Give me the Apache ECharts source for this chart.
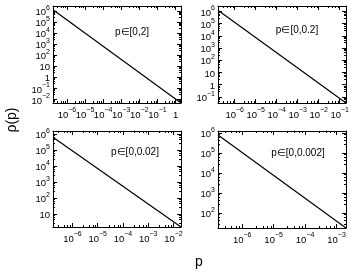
<!DOCTYPE html>
<html><head><meta charset="utf-8">
<script src="https://cdn.jsdelivr.net/npm/echarts@6/dist/echarts.min.js"></script>
<style>html,body{margin:0;padding:0;background:#fff}#c{width:363px;height:272px}</style>
</head><body><div id="c"></div>
<script>
// ---- data ----
const panelLabels = ['p\u2208[0,2]', 'p\u2208[0,0.2]', 'p\u2208[0,0.02]', 'p\u2208[0,0.002]'];
const xMinValues = [1.7e-7, 1.6e-7, 1.7e-7, 1.7e-7];
const xMaxValues = [2, 0.2, 0.02, 0.002];
const yMinValues = [4.8e-3, 3.2e-2, 1.6, 17.8];
const yMaxValues = [2.8e6, 2.8e6, 1.55e6, 1.26e6];
const pValues = [[1.7e-7, 2], [1.6e-7, 0.2], [1.7e-7, 0.02], [1.7e-7, 0.002]];
const rhoValues = [[1.26e6, 4.8e-3], [1.26e6, 3.2e-2], [6.3e5, 1.6], [7.9e5, 17.8]];
const xTitle = 'p';
const yTitle = '\u03c1(p)';

// ---- layout ----
const grids = [
  {left: 53, top: 6, width: 128, height: 97},
  {left: 218, top: 6, width: 128, height: 97},
  {left: 53, top: 131, width: 128, height: 96},
  {left: 218, top: 131, width: 128, height: 97}
];
const FONT = '"Liberation Sans", Arial, sans-serif';

function fmt(v) {
  const n = Math.log10(v);
  const r = Math.round(n);
  if (Math.abs(n - r) > 1e-6) return '';
  if (r === 0) return '{b|1}';
  if (r === 1) return '{b|10}';
  return '{b|10}{s|' + (r < 0 ? '\u2212' : '') + Math.abs(r) + '}';
}
const rich = {
  b: {fontSize: 9.5, fontFamily: FONT, color: '#000', lineHeight: 13, verticalAlign: 'bottom'},
  s: {fontSize: 7, fontFamily: FONT, color: '#000', lineHeight: 8, verticalAlign: 'top'}
};

const xAxes = [], yAxes = [], series = [], graphics = [];
grids.forEach((g, i) => {
  const common = {
    type: 'log', logBase: 10, gridIndex: i,
    axisLine: {show: true, onZero: false, lineStyle: {color: '#000', width: 1}},
    axisTick: {show: true, inside: true, length: 4, lineStyle: {color: '#000'}},
    minorTick: {show: true, splitNumber: 5, length: 2, lineStyle: {color: '#000'}},
    splitLine: {show: false},
    minorSplitLine: {show: false}
  };
  xAxes.push(Object.assign({}, common, {
    position: 'bottom', min: xMinValues[i], max: xMaxValues[i],
    axisLabel: {show: true, formatter: fmt, rich: rich, margin: 4, showMinLabel: false, showMaxLabel: false, hideOverlap: false}
  }));
  xAxes.push(Object.assign({}, common, {
    position: 'top', min: xMinValues[i], max: xMaxValues[i], axisLabel: {show: false}
  }));
  yAxes.push(Object.assign({}, common, {
    position: 'left', min: yMinValues[i], max: yMaxValues[i],
    axisLabel: {show: true, formatter: fmt, rich: rich, margin: 3, showMinLabel: false, showMaxLabel: false, hideOverlap: false}
  }));
  yAxes.push(Object.assign({}, common, {
    position: 'right', min: yMinValues[i], max: yMaxValues[i], axisLabel: {show: false}
  }));
  series.push({
    type: 'line', xAxisIndex: 2 * i, yAxisIndex: 2 * i,
    data: pValues[i].map((p, k) => [p, rhoValues[i][k]]),
    showSymbol: false, clip: true,
    lineStyle: {color: '#000', width: 1.2}
  });
});

const labelPos = [[132, 32], [297, 30], [135, 152], [298, 153]];
panelLabels.forEach((t, i) => {
  graphics.push({type: 'text', x: labelPos[i][0], y: labelPos[i][1],
    style: {text: t, fontSize: 10, fontFamily: FONT, fill: '#000', align: 'center', verticalAlign: 'middle'}});
});
graphics.push({type: 'text', x: 199, y: 262, style: {text: xTitle, fontSize: 14, fontFamily: FONT, fill: '#000', align: 'center', verticalAlign: 'middle'}});
graphics.push({type: 'text', x: 12, y: 120, rotation: Math.PI / 2, style: {text: yTitle, fontSize: 14, fontFamily: FONT, fill: '#000', align: 'center', verticalAlign: 'middle'}});

const chart = echarts.init(document.getElementById('c'), null, {renderer: 'canvas'});
chart.setOption({
  animation: false,
  backgroundColor: '#fff',
  grid: grids,
  xAxis: xAxes,
  yAxis: yAxes,
  series: series,
  graphic: graphics
});
</script></body></html>
